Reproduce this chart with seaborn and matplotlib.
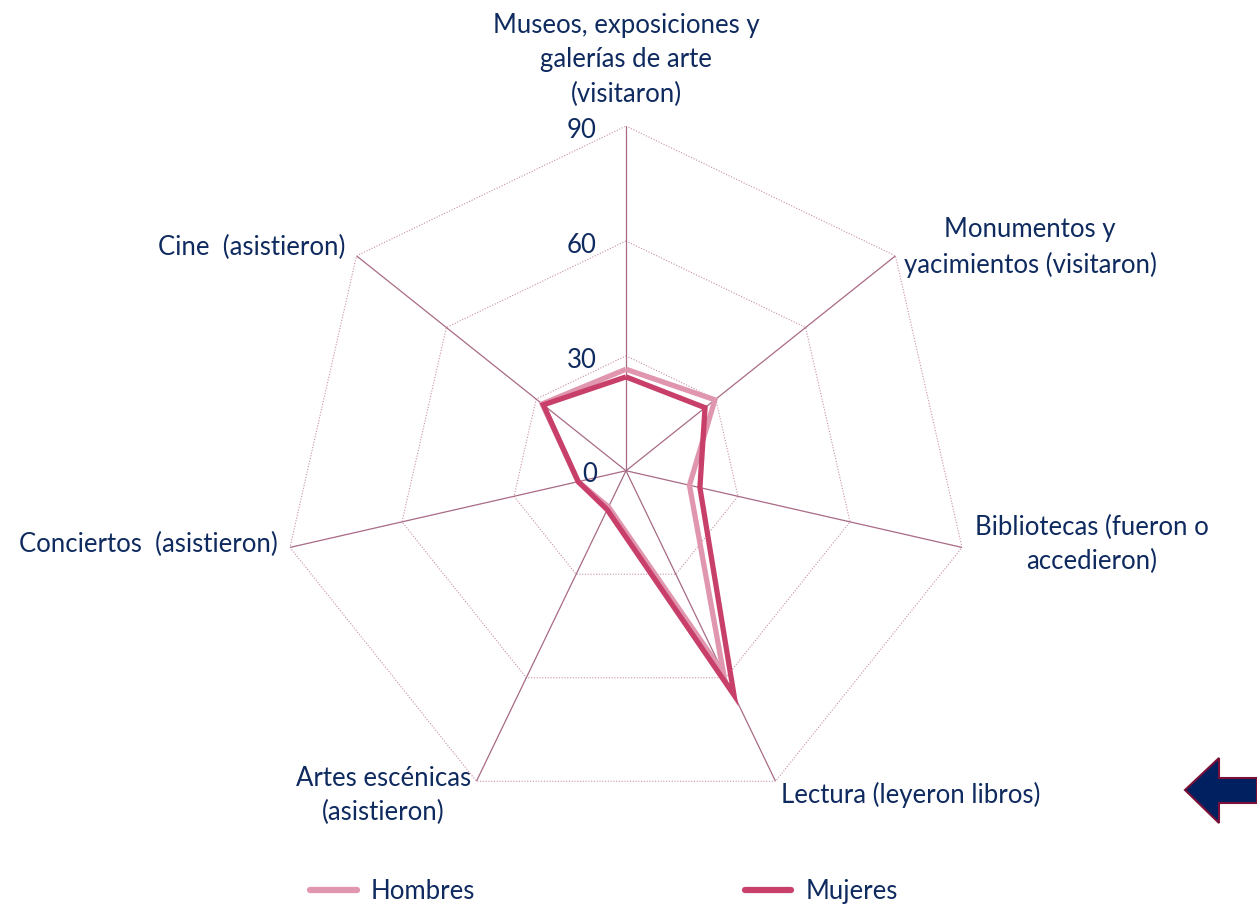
import numpy as np
import pandas as pd
import matplotlib
matplotlib.use("Agg")
import matplotlib.pyplot as plt
import seaborn as sns
from matplotlib.patches import Polygon
from matplotlib.lines import Line2D

categories = [
    "Museos, exposiciones y\ngalerías de arte\n(visitaron)",
    "Monumentos y\nyacimientos (visitaron)",
    "Bibliotecas (fueron o\naccedieron)",
    "Lectura (leyeron libros)",
    "Artes escénicas\n(asistieron)",
    "Conciertos  (asistieron)",
    "Cine  (asistieron)",
]
hombres = [26.5, 29.7, 17.0, 58.7, 10.5, 12.8, 28.0]
mujeres = [24.5, 26.4, 19.8, 65.0, 11.3, 12.8, 27.6]
series_names = ["Hombres", "Mujeres"]
ticks = [0, 30, 60, 90]

sns.set_style("white")
plt.rcParams['font.family'] = ['Lato', 'DejaVu Sans']

navy = "#0f2a5f"
c_h = "#e096ae"
c_m = "#c8406a"

n = len(categories)
angles = np.arange(n) * 2 * np.pi / n

rows = []
for name, vals in zip(series_names, [hombres, mujeres]):
    for k, i in enumerate(list(range(n)) + [0]):
        th = 2 * np.pi if k == n else angles[i]
        rows.append({"serie": name, "theta": th, "valor": vals[i]})
df = pd.DataFrame(rows)

fig = plt.figure(figsize=(12.57, 9.07), dpi=100)
ax = fig.add_axes([0.2238, 0.101, 0.5484, 0.760], projection="polar")
ax.set_theta_zero_location("N")
ax.set_theta_direction(-1)
ax.set_ylim(0, 90)
ax.grid(False)
ax.spines["polar"].set_visible(False)
ax.set_xticks([])
ax.set_yticks([])
ax.patch.set_alpha(0)

# polygon grid
closed = np.append(angles, angles[0])
for t in ticks[1:]:
    ax.plot(closed, [t] * (n + 1), color="#c890a8", lw=0.8, ls=(0, (1, 1.5)), zorder=1)
for a in angles:
    ax.plot([a, a], [0, 90], color="#a86a86", lw=0.9, zorder=1)

sns.lineplot(data=df, x="theta", y="valor", hue="serie", sort=False,
             palette={"Hombres": c_h, "Mujeres": c_m}, lw=3.8, ax=ax,
             legend=False, zorder=3, estimator=None, units="serie")
for line in ax.lines[-2:]:
    line.set_solid_joinstyle("miter")
    line.set_solid_capstyle("butt")

ax.set_xlabel("")
ax.set_ylabel("")

fs = 18.5
for t in ticks:
    ax.annotate(str(t), xy=(0, t), xytext=(-21, -3), textcoords="offset points",
                ha="right", va="center", fontsize=fs, color=navy)

label_pos = [
    ((0, 14), "center", "bottom"),
    ((6, 6), "left", "center"),
    ((9, 2), "left", "center"),
    ((4, -10), "left", "center"),
    ((-4, -10), "right", "center"),
    ((-9, 2), "right", "center"),
    ((-8, 6), "right", "center"),
]
for a, lab, (off, ha, va) in zip(angles, categories, label_pos):
    ax.annotate(lab, xy=(a, 90), xytext=off, textcoords="offset points",
                ha=ha, va=va, fontsize=fs, color=navy, multialignment="center",
                linespacing=1.45, annotation_clip=False)

# legend
handles = [Line2D([0], [0], color=c_h, lw=4.5, solid_capstyle="round"),
           Line2D([0], [0], color=c_m, lw=4.5, solid_capstyle="round")]
leg = fig.legend(handles, series_names, loc="center", bbox_to_anchor=(0.4805, 0.0176),
                 ncol=2, frameon=False, fontsize=fs, handlelength=1.8,
                 handletextpad=0.55, columnspacing=10.5, borderpad=0)
for txt in leg.get_texts():
    txt.set_color(navy)

# decorative arrow at bottom right
arrow_pts = [(1185, 790), (1219, 758), (1219, 778), (1257, 778), (1257, 803),
             (1219, 803), (1219, 823)]
arrow_pts = [(x / 1257, 1 - y / 907) for x, y in arrow_pts]
fig.patches.append(Polygon(arrow_pts, closed=True, transform=fig.transFigure,
                           facecolor="#002060", edgecolor="#7a1038", lw=1.5))

fig.savefig("out.png", dpi=100)
